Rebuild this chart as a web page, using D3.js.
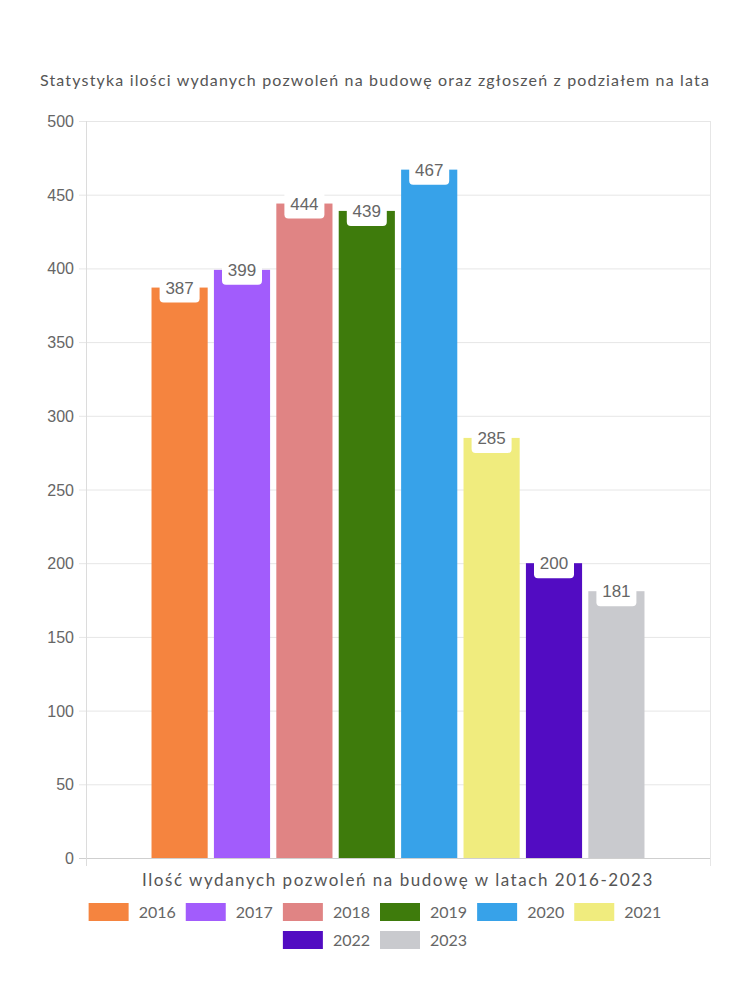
<!DOCTYPE html>
<html><head><meta charset="utf-8">
<script src="https://cdn.jsdelivr.net/npm/d3@7"></script>
<style>body{margin:0;background:#fff}</style>
</head><body>
<svg id="c" width="750" height="1000"></svg>
<script>
const years = ["2016","2017","2018","2019","2020","2021","2022","2023"];
const values = [387, 399, 444, 439, 467, 285, 200, 181];
const colors = ["#F5843F","#A25CFC","#E08484","#3E7B0C","#37A2E9","#F0EC7E","#520CC2","#C9CACE"];
const yTicks = [0,50,100,150,200,250,300,350,400,450,500];
const title = "Statystyka ilości wydanych pozwoleń na budowę oraz zgłoszeń z podziałem na lata";
const xTitle = "Ilość wydanych pozwoleń na budowę w latach 2016-2023";

const svg = d3.select("#c");
const L=86, R=710, T=121, B=858;
const roundFont = "Lato, 'Noto Sans', sans-serif";
const tickFont = "'Liberation Sans', Arial, sans-serif";

const y = d3.scaleLinear().domain([0,500]).range([B,T]);
const x0 = d3.scaleBand().domain(["all"]).range([L,R]).paddingInner(0).paddingOuter(0.125);
const x1 = d3.scaleBand().domain(years).range([0,x0.bandwidth()]).paddingInner(0.1).paddingOuter(0.05);

// fit text to a target width via letter-spacing
function fit(sel, target){
  const n = sel.text().length;
  const w = sel.node().getComputedTextLength();
  sel.attr("letter-spacing", ((target - w)/n).toFixed(2));
}

// title
const tt = svg.append("text").attr("x",375).attr("y",86).attr("text-anchor","middle")
  .attr("font-family",roundFont).attr("font-size",16).attr("fill","#555").text(title);
fit(tt, 670);

// grid
const g = svg.append("g");
g.selectAll("line.grid").data(yTicks).join("line")
  .attr("x1",L-7).attr("x2",R).attr("y1",d=>y(d)+0.5).attr("y2",d=>y(d)+0.5)
  .attr("stroke",d=>d===0?"#cfcfcf":"#e6e6e6").attr("stroke-width",1);
g.append("line").attr("x1",L+0.5).attr("x2",L+0.5).attr("y1",T).attr("y2",B+8).attr("stroke","#dcdcdc");
g.append("line").attr("x1",R+0.5).attr("x2",R+0.5).attr("y1",T).attr("y2",B+8).attr("stroke","#e6e6e6");

g.selectAll("text.yt").data(yTicks).join("text")
  .attr("x",74).attr("y",d=>y(d)+6).attr("text-anchor","end")
  .attr("font-family",tickFont).attr("font-size",16).attr("fill","#666").text(d=>d);

// bars
const data = years.map((yr,i)=>({yr,v:values[i],c:colors[i]}));
const bars = svg.append("g");
bars.selectAll("rect").data(data).join("rect")
  .attr("x",d=>x0("all")+x1(d.yr)).attr("width",x1.bandwidth())
  .attr("y",d=>y(d.v)).attr("height",d=>B-y(d.v)).attr("fill",d=>d.c);

// labels
const lab = svg.append("g");
lab.selectAll("rect").data(data).join("rect")
  .attr("x",d=>x0("all")+x1(d.yr)+x1.bandwidth()/2-20).attr("width",40)
  .attr("y",d=>y(d.v)-15).attr("height",30).attr("rx",4).attr("fill","#fff");
lab.selectAll("text").data(data).join("text")
  .attr("x",d=>x0("all")+x1(d.yr)+x1.bandwidth()/2).attr("y",d=>y(d.v)+6)
  .attr("text-anchor","middle").attr("font-family",tickFont).attr("font-size",17)
  .attr("fill","#666").text(d=>d.v);

// x title
const xt = svg.append("text").attr("x",(L+R)/2).attr("y",886).attr("text-anchor","middle")
  .attr("font-family",roundFont).attr("font-size",17).attr("fill","#555").text(xTitle);
fit(xt, 512);

// legend
const rows = [data.slice(0,6), data.slice(6)];
const rowY = [912, 940];
const tmp = svg.append("text").attr("font-family",roundFont).attr("font-size",16);
rows.forEach((row,ri)=>{
  const widths = row.map(d=>{tmp.text(d.yr); return 50 + tmp.node().getComputedTextLength();});
  const total = d3.sum(widths) + 10*(row.length-1);
  let cx = 375 - total/2;
  row.forEach((d,i)=>{
    svg.append("rect").attr("x",cx).attr("y",rowY[ri]-9).attr("width",40).attr("height",18).attr("fill",d.c);
    svg.append("text").attr("x",cx+50).attr("y",rowY[ri]+6).attr("font-family",roundFont)
      .attr("font-size",16).attr("fill","#666").text(d.yr);
    cx += widths[i] + 10;
  });
});
tmp.remove();
</script>
</body></html>
